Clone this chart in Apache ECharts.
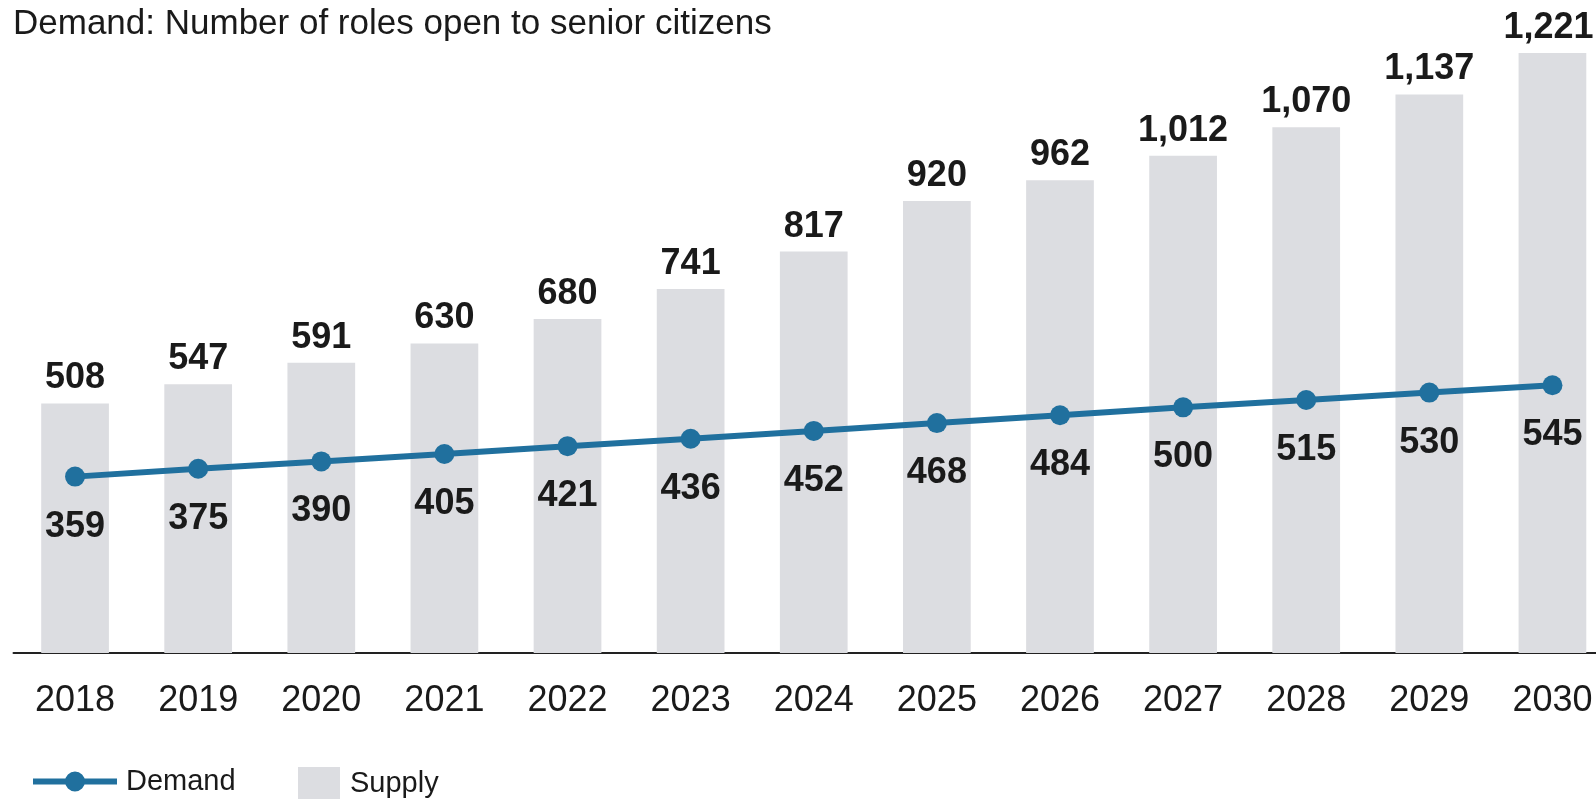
<!DOCTYPE html>
<html><head><meta charset="utf-8">
<script src="https://cdn.jsdelivr.net/npm/echarts@6/dist/echarts.min.js"></script>
<style>html,body{margin:0;padding:0;background:#fff}#c{width:1596px;height:799px}</style>
</head><body><div id="c"></div>
<script>
const years = ['2018','2019','2020','2021','2022','2023','2024','2025','2026','2027','2028','2029','2030'];
const supply = [508,547,591,630,680,741,817,920,962,1012,1070,1137,1221];
const demand = [359,375,390,405,421,436,452,468,484,500,515,530,545];
const titleText = 'Demand: Number of roles open to senior citizens';

const FONT = '"Liberation Sans", Arial, sans-serif';
const fmt = p => Number(p.value).toLocaleString('en-US');
const supplyData = supply.map((v, i) => i === supply.length - 1 ? { value: v, label: { offset: [-4, 0] } } : v);
const chart = echarts.init(document.getElementById('c'));
chart.setOption({
  animation: false,
  title: { text: titleText, left: 8, top: 2,
    textStyle: { fontFamily: FONT, fontSize: 35, fontWeight: 'normal', color: '#1a1a1a' } },
  legend: [
    { data: [{ name: 'Demand', icon: 'path://M0,7H33V13H0Z M51,7H84V13H51Z M32,10A10,10 0 1,1 52,10A10,10 0 1,1 32,10Z' }],
      left: 28, top: 762, itemWidth: 84, itemHeight: 20,
      textStyle: { fontFamily: FONT, fontSize: 29, color: '#1a1a1a', padding: [0,0,0,4] } },
    { data: [{ name: 'Supply', icon: 'rect' }], left: 293, top: 762, itemWidth: 42, itemHeight: 34,
      textStyle: { fontFamily: FONT, fontSize: 29, color: '#1a1a1a', padding: [0,0,0,5] } }
  ],
  grid: { left: 13.5, right: -18, top: 14.3, bottom: 146, containLabel: false, outerBoundsMode: 'none' },
  xAxis: { type: 'category', data: years,
    axisLine: { lineStyle: { color: '#222', width: 2 } },
    axisTick: { show: false },
    axisLabel: { fontFamily: FONT, fontSize: 36, color: '#1a1a1a', margin: 30 } },
  yAxis: { type: 'value', min: 0, max: 1300, show: false, splitLine: { show: false } },
  series: [
    { name: 'Supply', type: 'bar', data: supplyData, barWidth: '55%',
      itemStyle: { color: '#dcdde1' },
      label: { show: true, position: 'top', distance: 7, formatter: fmt,
        fontFamily: FONT, fontSize: 36, fontWeight: 'bold', color: '#1a1a1a' } },
    { name: 'Demand', type: 'line', data: demand, symbol: 'circle', symbolSize: 20,
      lineStyle: { color: '#20709e', width: 6 }, itemStyle: { color: '#20709e' },
      label: { show: true, position: 'bottom', distance: 22, formatter: fmt,
        fontFamily: FONT, fontSize: 36, fontWeight: 'bold', color: '#1a1a1a' } }
  ]
});
</script></body></html>
